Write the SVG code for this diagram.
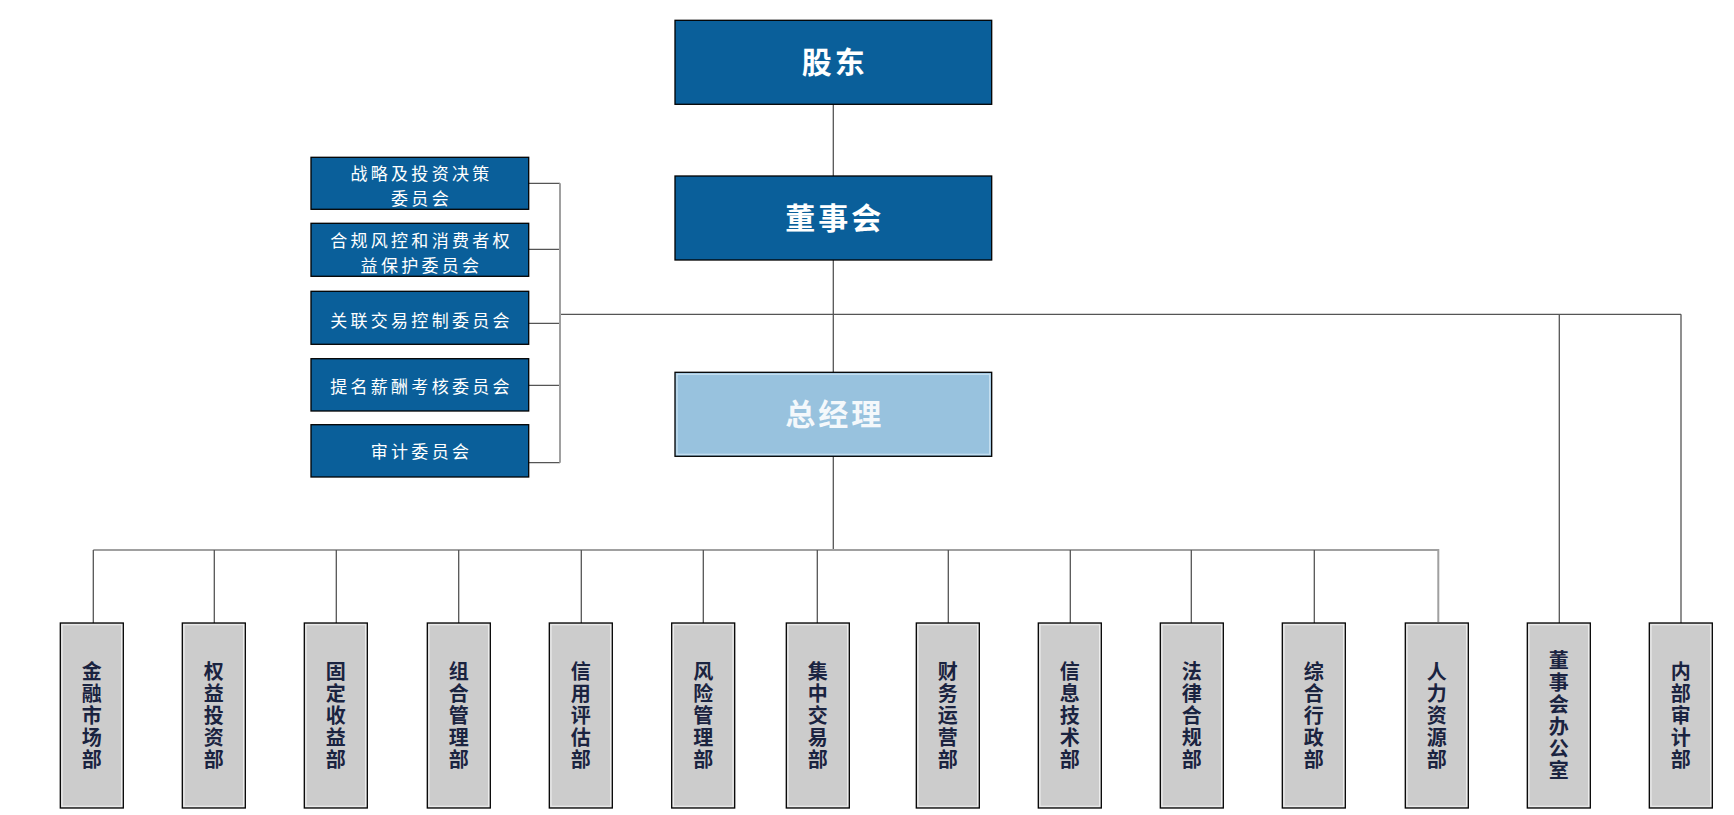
<svg xmlns="http://www.w3.org/2000/svg" width="1734" height="815" viewBox="0 0 1734 815">
<style>
.top{fill:#0a5f9a;stroke:#000;stroke-width:1.3}
.gm{fill:#98c2de;stroke:#000;stroke-width:1.3}
.gmin{fill:none;stroke:#c9e1f1;stroke-width:1.2}
.com{fill:#0a5f9a;stroke:#000;stroke-width:1.3}
.dept{fill:#cccccc;stroke:#000;stroke-width:1.3}
.deptin{fill:none;stroke:#ececec;stroke-width:1.2}
.tt{font-family:"Noto Sans CJK SC","Noto Sans",sans-serif;font-size:30px;font-weight:bold;fill:#fff;text-anchor:middle;letter-spacing:3px}
.gt{font-family:"Noto Sans CJK SC","Noto Sans",sans-serif;font-size:30px;font-weight:bold;fill:#f4f8fb;text-anchor:middle;letter-spacing:3px}
.ct{font-family:"Noto Sans CJK SC","Noto Sans",sans-serif;font-size:17px;fill:#fff;text-anchor:middle;letter-spacing:3.3px}
.dt{font-family:"Noto Sans CJK SC","Noto Sans",sans-serif;font-size:20px;font-weight:bold;fill:#1a2340;text-anchor:middle;writing-mode:vertical-rl;letter-spacing:2px}
.ln{stroke:#555;stroke-width:1.3;fill:none}
.lg{stroke:#a0a0a0;stroke-width:2;fill:none}
</style>
<g id="connectors">
<path class="ln" d="M833.3 104 V176 M833.3 260 V372 M560 314.3 H1681 M1559.3 314.3 V623 M1681 314.3 V623 M833.3 456 V550"/>
<path class="ln" d="M528.7 183.3 H560 M528.7 249.3 H560 M528.7 323.3 H560 M528.7 385.3 H560 M528.7 462.7 H560"/>
<path class="lg" d="M560 183.3 V462.7"/>
<path class="lg" d="M93.3 550 H1438.3 V622"/>
<path class="ln" d="M93.3 550 V623 M214.3 550 V623 M336.3 550 V623 M458.7 550 V623 M581.3 550 V623 M703.3 550 V623 M817.3 550 V623 M948.3 550 V623 M1070.3 550 V623 M1191.3 550 V623 M1314.3 550 V623"/>
</g>
<g id="shareholders"><rect class="top" x="675" y="20.3" width="316.7" height="84"/><text class="tt" x="834.8" y="73">股东</text></g>
<g id="board"><rect class="top" x="675" y="176" width="316.7" height="84"/><text class="tt" x="834.8" y="229">董事会</text></g>
<g id="gm"><rect class="gm" x="675" y="372.3" width="316.7" height="84"/><rect class="gmin" x="677" y="374.3" width="312.7" height="80"/><text class="gt" x="834.8" y="425">总经理</text></g>
<g id="c1"><rect class="com" x="311" y="157.3" width="217.7" height="52"/><text class="ct" x="421.5" y="179.5">战略及投资决策</text><text class="ct" x="421.5" y="204.5">委员会</text></g>
<g id="c2"><rect class="com" x="311" y="223.3" width="217.7" height="53"/><text class="ct" x="421.5" y="246.5">合规风控和消费者权</text><text class="ct" x="421.5" y="271.5">益保护委员会</text></g>
<g id="c3"><rect class="com" x="311" y="291.3" width="217.7" height="53"/><text class="ct" x="421.5" y="326.5">关联交易控制委员会</text></g>
<g id="c4"><rect class="com" x="311" y="358.7" width="217.7" height="52.3"/><text class="ct" x="421.5" y="392.5">提名薪酬考核委员会</text></g>
<g id="c5"><rect class="com" x="311" y="424.7" width="217.7" height="52.3"/><text class="ct" x="421.5" y="458">审计委员会</text></g>
<g id="d1"><rect class="dept" x="60.3" y="623" width="63" height="185"/><rect class="deptin" x="62" y="624.7" width="59.6" height="181.6"/><text class="dt" x="91.8" y="716.5">金融市场部</text></g>
<g id="d2"><rect class="dept" x="182.3" y="623" width="63" height="185"/><rect class="deptin" x="184" y="624.7" width="59.6" height="181.6"/><text class="dt" x="213.8" y="716.5">权益投资部</text></g>
<g id="d3"><rect class="dept" x="304.3" y="623" width="63" height="185"/><rect class="deptin" x="306" y="624.7" width="59.6" height="181.6"/><text class="dt" x="335.8" y="716.5">固定收益部</text></g>
<g id="d4"><rect class="dept" x="427.3" y="623" width="63" height="185"/><rect class="deptin" x="429" y="624.7" width="59.6" height="181.6"/><text class="dt" x="458.8" y="716.5">组合管理部</text></g>
<g id="d5"><rect class="dept" x="549.3" y="623" width="63" height="185"/><rect class="deptin" x="551" y="624.7" width="59.6" height="181.6"/><text class="dt" x="580.8" y="716.5">信用评估部</text></g>
<g id="d6"><rect class="dept" x="671.7" y="623" width="63" height="185"/><rect class="deptin" x="673.4" y="624.7" width="59.6" height="181.6"/><text class="dt" x="703.2" y="716.5">风险管理部</text></g>
<g id="d7"><rect class="dept" x="786.3" y="623" width="63" height="185"/><rect class="deptin" x="788" y="624.7" width="59.6" height="181.6"/><text class="dt" x="817.8" y="716.5">集中交易部</text></g>
<g id="d8"><rect class="dept" x="916.3" y="623" width="63" height="185"/><rect class="deptin" x="918" y="624.7" width="59.6" height="181.6"/><text class="dt" x="947.8" y="716.5">财务运营部</text></g>
<g id="d9"><rect class="dept" x="1038.3" y="623" width="63" height="185"/><rect class="deptin" x="1040" y="624.7" width="59.6" height="181.6"/><text class="dt" x="1069.8" y="716.5">信息技术部</text></g>
<g id="d10"><rect class="dept" x="1160.3" y="623" width="63" height="185"/><rect class="deptin" x="1162" y="624.7" width="59.6" height="181.6"/><text class="dt" x="1191.8" y="716.5">法律合规部</text></g>
<g id="d11"><rect class="dept" x="1282.3" y="623" width="63" height="185"/><rect class="deptin" x="1284" y="624.7" width="59.6" height="181.6"/><text class="dt" x="1313.8" y="716.5">综合行政部</text></g>
<g id="d12"><rect class="dept" x="1405.3" y="623" width="63" height="185"/><rect class="deptin" x="1407" y="624.7" width="59.6" height="181.6"/><text class="dt" x="1436.8" y="716.5">人力资源部</text></g>
<g id="d13"><rect class="dept" x="1527.3" y="623" width="63" height="185"/><rect class="deptin" x="1529" y="624.7" width="59.6" height="181.6"/><text class="dt" x="1558.8" y="716.5">董事会办公室</text></g>
<g id="d14"><rect class="dept" x="1649.3" y="623" width="63" height="185"/><rect class="deptin" x="1651" y="624.7" width="59.6" height="181.6"/><text class="dt" x="1680.8" y="716.5">内部审计部</text></g>
</svg>
